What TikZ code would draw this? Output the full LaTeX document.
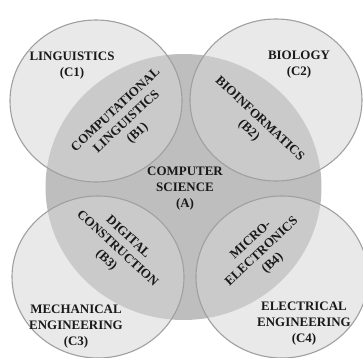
\documentclass[tikz,border=0pt]{standalone}
\usepackage{fontspec}
\setmainfont{Liberation Serif}
\definecolor{bigfill}{RGB}{190,190,190}
\definecolor{smallfill}{RGB}{214,214,214}
\definecolor{edge}{RGB}{160,160,160}
\definecolor{ink}{RGB}{25,25,25}
\tikzset{
  lbl/.style={align=center, inner sep=0pt, text=ink, font=\fontsize{13}{16}\selectfont\bfseries},
  smallc/.style={fill=smallfill, fill opacity=0.52, draw=edge, draw opacity=1, line width=1.1bp}
}
\begin{document}
\begin{tikzpicture}[x=1bp,y=1bp]
\useasboundingbox (0,0) rectangle (363,358);
\fill[white] (0,0) rectangle (363,358);
% big circle
\fill[bigfill] (183.5,171) ellipse [x radius=138, y radius=133];
% small circles
\path[smallc] (96,257) ellipse [x radius=86, y radius=81];
\path[smallc] (276,258) ellipse [x radius=86, y radius=81];
\path[smallc] (98,81) ellipse [x radius=86, y radius=81];
\path[smallc] (282,81) ellipse [x radius=86, y radius=81];
% labels
\node[lbl] (c1) at (72,292) {LINGUISTICS\\(C1)};
\node[lbl] (c2) at (299,293) {BIOLOGY\\(C2)};
\node[lbl] (a) at (185,169) {COMPUTER\\SCIENCE\\(A)};
\node[lbl] (c3) at (76,31) {MECHANICAL\\ENGINEERING\\(C3)};
\node[lbl] (c4) at (304,34) {ELECTRICAL\\ENGINEERING\\(C4)};
\node[lbl, rotate=43] (b1) at (127,236) {COMPUTATIONAL\\LINGUISTICS\\(B1)};
\node[lbl, rotate=-43] (b2) at (254,233) {BIOINFORMATICS\\(B2)};
\node[lbl, rotate=-43] (b3) at (117,109) {DIGITAL\\CONSTRUCTION\\(B3)};
\node[lbl, rotate=43] (b4) at (262,106) {MICRO-\\ELECTRONICS\\(B4)};
\end{tikzpicture}
\end{document}
